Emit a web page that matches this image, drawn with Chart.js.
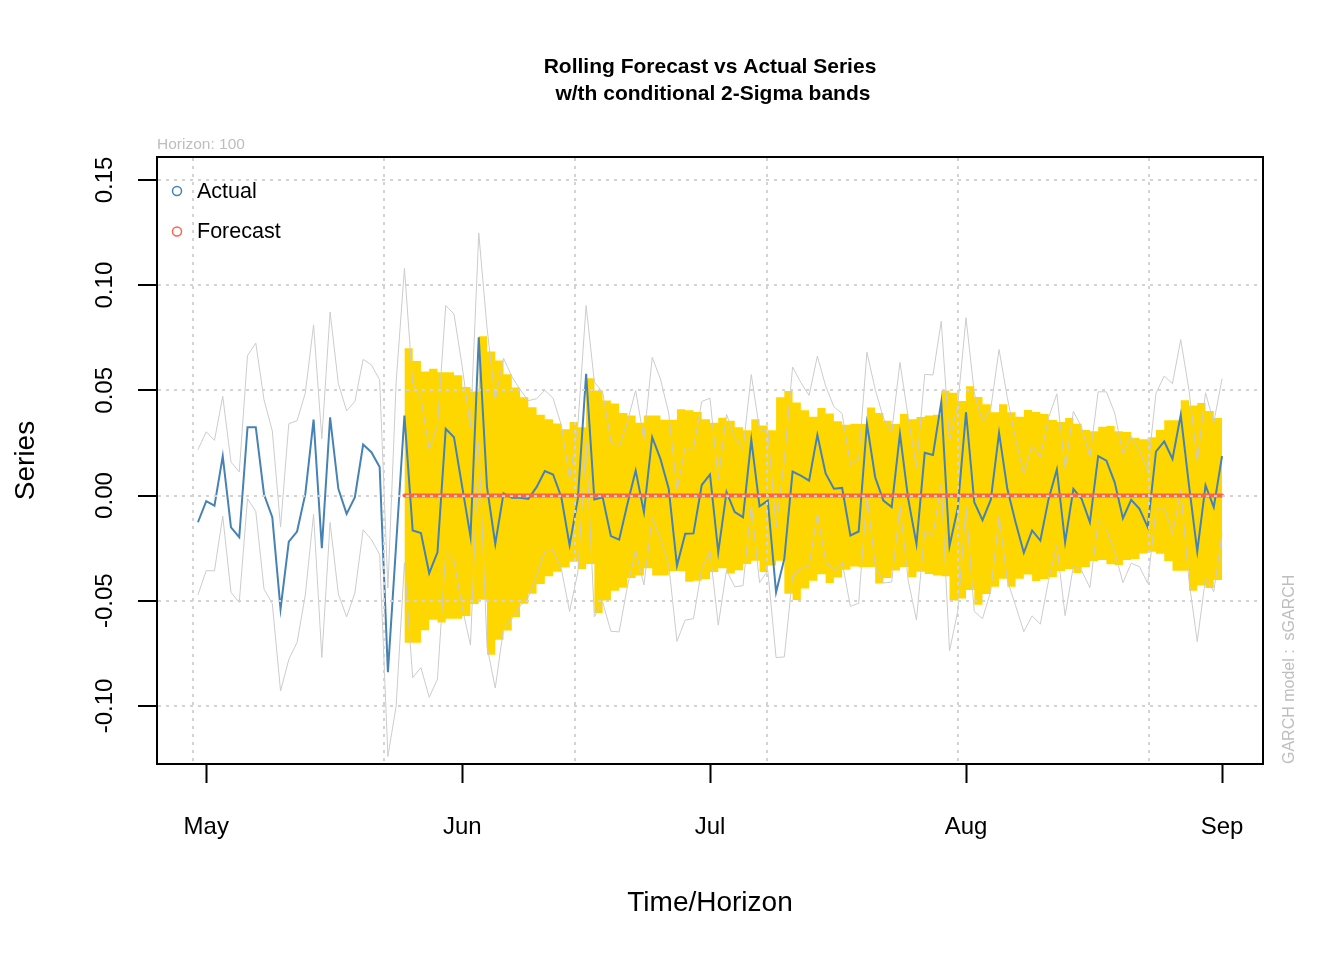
<!DOCTYPE html>
<html>
<head>
<meta charset="utf-8">
<title>Rolling Forecast vs Actual Series</title>
<script src="https://cdn.jsdelivr.net/npm/chart.js"></script>
<style>
    html, body { margin: 0; padding: 0; background: #ffffff; }
    #Wrap { width: 1344px; height: 960px; }
</style>
</head>
<body>
<div id="Wrap"><canvas id="ChartCanvas" width="1344" height="960"></canvas></div>
<script>
// Days are counted from 1 May (30 Apr = -1, 1 Sep = 123)
const firstDay = -1;
const forecastStartDay = 24; // 25 May, first of the 100 rolling forecasts

// Actual series, 30 Apr .. 1 Sep
const actualSeries = [
    -0.0127, -0.0027, -0.0048, 0.0187, -0.0151, -0.0198, 0.0325, 0.0325, 0.0005, -0.0103,
    -0.0539, -0.0219, -0.0171, 0.0008, 0.0361, -0.0250, 0.0372, 0.0032, -0.0087, -0.0008,
    0.0242, 0.0206, 0.0135, -0.0840, -0.0230, 0.0380, -0.0166, -0.0178, -0.0369, -0.0270,
    0.0317, 0.0277, 0.0040, -0.0195, 0.0752, 0.0040, -0.0230, 0.0011, -0.0011, -0.0011,
    -0.0016, 0.0040, 0.0116, 0.0100, -0.0008, -0.0236, -0.0015, 0.0578, -0.0019, -0.0008,
    -0.0193, -0.0210, -0.0040, 0.0119, -0.0079, 0.0277, 0.0174, 0.0032, -0.0333, -0.0182,
    -0.0180, 0.0050, 0.0100, -0.0270, 0.0016, -0.0079, -0.0103, 0.0265, -0.0051, -0.0024,
    -0.0460, -0.0300, 0.0114, 0.0095, 0.0071, 0.0288, 0.0105, 0.0032, 0.0036, -0.0190,
    -0.0171, 0.0341, 0.0087, -0.0024, -0.0055, 0.0293, -0.0016, -0.0230, 0.0203, 0.0193,
    0.0444, -0.0240, -0.0060, 0.0396, -0.0032, -0.0117, -0.0020, 0.0298, 0.0032, -0.0127,
    -0.0272, -0.0166, -0.0214, -0.0016, 0.0124, -0.0222, 0.0032, -0.0016, -0.0127, 0.0187,
    0.0166, 0.0063, -0.0108, -0.0020, -0.0063, -0.0150, 0.0209, 0.0257, 0.0174, 0.0383,
    0.0048, -0.0266, 0.0048, -0.0055, 0.0187
];

// 2 x conditional sigma, same days
const twoSigma = [
    0.0345, 0.0330, 0.0310, 0.0285, 0.0310, 0.0310, 0.0340, 0.0400, 0.0450, 0.0410,
    0.0390, 0.0560, 0.0527, 0.0480, 0.0450, 0.0520, 0.0500, 0.0500, 0.0490, 0.0455,
    0.0405, 0.0415, 0.0415, 0.0400, 0.0770, 0.0700, 0.0700, 0.0640, 0.0590, 0.0603,
    0.0586, 0.0586, 0.0572, 0.0516, 0.0495, 0.0757, 0.0685, 0.0642, 0.0577, 0.0514,
    0.0467, 0.0420, 0.0384, 0.0362, 0.0342, 0.0315, 0.0349, 0.0325, 0.0558, 0.0499,
    0.0452, 0.0438, 0.0392, 0.0380, 0.0346, 0.0380, 0.0380, 0.0360, 0.0360, 0.0410,
    0.0405, 0.0397, 0.0363, 0.0346, 0.0370, 0.0355, 0.0325, 0.0310, 0.0363, 0.0333,
    0.0310, 0.0467, 0.0497, 0.0442, 0.0405, 0.0374, 0.0416, 0.0390, 0.0353, 0.0337,
    0.0341, 0.0340, 0.0418, 0.0392, 0.0356, 0.0340, 0.0388, 0.0362, 0.0373, 0.0380,
    0.0384, 0.0499, 0.0489, 0.0449, 0.0519, 0.0468, 0.0434, 0.0396, 0.0434, 0.0396,
    0.0375, 0.0406, 0.0397, 0.0387, 0.0359, 0.0349, 0.0368, 0.0341, 0.0311, 0.0306,
    0.0327, 0.0330, 0.0306, 0.0302, 0.0275, 0.0267, 0.0277, 0.0311, 0.0358, 0.0358,
    0.0453, 0.0428, 0.0440, 0.0402, 0.0368
];

// Rolling forecast, 25 May .. 1 Sep (100 steps)
const forecastSeries = [
    0, 0, 0, 0, 0, 0, 0, 0, 0, 0,
    0, 0, 0, 0, 0, 0, 0, 0, 0, 0,
    0, 0, 0, 0, 0, 0, 0, 0, 0, 0,
    0, 0, 0, 0, 0, 0, 0, 0, 0, 0,
    0, 0, 0, 0, 0, 0, 0, 0, 0, 0,
    0, 0, 0, 0, 0, 0, 0, 0, 0, 0,
    0, 0, 0, 0, 0, 0, 0, 0, 0, 0,
    0, 0, 0, 0, 0, 0, 0, 0, 0, 0,
    0, 0, 0, 0, 0, 0, 0, 0, 0, 0,
    0, 0, 0, 0, 0, 0, 0, 0, 0, 0
];

// Axis ticks
const monthDays = [0, 31, 61, 92, 123];
const monthLabels = ['May', 'Jun', 'Jul', 'Aug', 'Sep'];
const gridDays = [-1.63, 21.53, 44.69, 67.85, 91.01, 114.17];
const yTicks = [-0.10, -0.05, 0.00, 0.05, 0.10, 0.15];

Initialize();

function Initialize()
{
    const FONT = '"Liberation Sans", Arial, sans-serif';
    const xMin = -5.96, xMax = 127.96;
    const yMin = -0.1276, yMax = 0.1609;
    const gridColor = '#d3d3d3';

    // Build point lists from the arrays
    const offset = forecastStartDay - firstDay;
    const actualPoints = actualSeries.map((v, i) => ({ x: firstDay + i, y: v }));
    const upperGrey = actualSeries.map((v, i) => ({ x: firstDay + i, y: v + twoSigma[i] }));
    const lowerGrey = actualSeries.map((v, i) => ({ x: firstDay + i, y: v - twoSigma[i] }));
    const forecastPoints = forecastSeries.map((v, k) => ({ x: forecastStartDay + k, y: v }));
    const bandUpper = forecastSeries.map((v, k) => ({ x: forecastStartDay + k, y: v + twoSigma[offset + k] }));
    const bandLower = forecastSeries.map((v, k) => ({ x: forecastStartDay + k, y: v - twoSigma[offset + k] }));

    // Legend, and model note drawn over the chart
    const notesPlugin = {
        id: 'notes',
        afterDraw(chart)
        {
            const ctx = chart.ctx;
            const area = chart.chartArea;
            ctx.save();

            // Legend (no box)
            const items = [chart.data.datasets[1], chart.data.datasets[0]];
            items.forEach((ds, i) => {
                const y = area.top + 34 + i * 40.5;
                ctx.beginPath();
                ctx.arc(area.left + 20, y, 4.5, 0, Math.PI * 2);
                ctx.lineWidth = 1.5;
                ctx.strokeStyle = ds.borderColor;
                ctx.stroke();
                ctx.fillStyle = '#000000';
                ctx.font = '21.5px ' + FONT;
                ctx.textAlign = 'left';
                ctx.textBaseline = 'middle';
                ctx.fillText(ds.label, area.left + 40, y + 1);
            });

            // Model note on the right side, reading upwards
            ctx.translate(area.right + 27, area.bottom);
            ctx.rotate(-Math.PI / 2);
            ctx.fillStyle = '#bebebe';
            ctx.font = '16px ' + FONT;
            ctx.textAlign = 'left';
            ctx.textBaseline = 'middle';
            ctx.fillText('GARCH model :  sGARCH', 0, 0);
            ctx.restore();
        }
    };

    const canvas = document.getElementById('ChartCanvas');
    const ctx = canvas.getContext('2d');
    const chart = new Chart(ctx, {
        type: 'line',
        data: {
            datasets: [
                {
                    label: 'Forecast',
                    data: forecastPoints,
                    borderColor: '#FF6347',
                    borderWidth: 4,
                    borderCapStyle: 'round',
                    order: 1
                },
                {
                    label: 'Actual',
                    data: actualPoints,
                    borderColor: '#4682B4',
                    borderWidth: 2,
                    order: 2
                },
                {
                    label: 'Upper',
                    data: upperGrey,
                    borderColor: '#cccccc',
                    borderWidth: 1,
                    order: 3
                },
                {
                    label: 'Lower',
                    data: lowerGrey,
                    borderColor: '#cccccc',
                    borderWidth: 1,
                    order: 4
                },
                {
                    label: 'Band upper',
                    data: bandUpper,
                    stepped: 'after',
                    fill: 'origin',
                    backgroundColor: '#FFD700',
                    borderColor: 'rgba(0,0,0,0)',
                    borderWidth: 0,
                    order: 5
                },
                {
                    label: 'Band lower',
                    data: bandLower,
                    stepped: 'before',
                    fill: 'origin',
                    backgroundColor: '#FFD700',
                    borderColor: 'rgba(0,0,0,0)',
                    borderWidth: 0,
                    order: 6
                }
            ]
        },
        options: {
            responsive: false,
            animation: false,
            devicePixelRatio: 1,
            events: [],
            layout: { padding: { top: 0, left: 5, right: 81, bottom: 36 } },
            elements: {
                point: { radius: 0, hitRadius: 0 },
                line: { tension: 0 }
            },
            plugins: {
                legend: { display: false },
                tooltip: { enabled: false },
                title: {
                    display: true,
                    fullSize: false,
                    text: ['Rolling Forecast vs Actual Series', ' w/th conditional 2-Sigma bands'],
                    color: '#000000',
                    font: { family: FONT, size: 21, weight: 'bold', lineHeight: 27 / 21 },
                    padding: { top: 53.5, bottom: 0 }
                },
                subtitle: {
                    display: true,
                    fullSize: false,
                    align: 'start',
                    text: 'Horizon: 100',
                    color: '#bebebe',
                    font: { family: FONT, size: 15.5, lineHeight: 1 },
                    padding: { top: 29, bottom: 5 }
                }
            },
            scales: {
                x: {
                    type: 'linear',
                    position: 'bottom',
                    min: xMin,
                    max: xMax,
                    afterBuildTicks: (scale) => { scale.ticks = monthDays.map(v => ({ value: v })); },
                    afterFit: (scale) => { scale.height = 160; },
                    ticks: {
                        callback: (value, index) => monthLabels[index],
                        autoSkip: false,
                        maxRotation: 0,
                        color: '#000000',
                        padding: 32,
                        font: { family: FONT, size: 24, lineHeight: 1 }
                    },
                    grid: {
                        drawOnChartArea: false,
                        drawTicks: true,
                        tickLength: 19,
                        tickColor: '#000000',
                        tickWidth: 2,
                        z: 1
                    },
                    border: { display: true, color: '#000000', width: 2, z: 2 },
                    title: {
                        display: true,
                        text: 'Time/Horizon',
                        color: '#000000',
                        font: { family: FONT, size: 28, lineHeight: 1 },
                        padding: { top: 0, bottom: 7 }
                    }
                },
                xGrid: {
                    type: 'linear',
                    position: 'top',
                    min: xMin,
                    max: xMax,
                    afterBuildTicks: (scale) => { scale.ticks = gridDays.map(v => ({ value: v })); },
                    afterFit: (scale) => { scale.height = 0; },
                    ticks: { display: false },
                    grid: { drawOnChartArea: true, drawTicks: false, color: gridColor, lineWidth: 2, z: 1 },
                    border: { display: true, color: '#000000', width: 2, dash: [3, 5], z: 2 }
                },
                y: {
                    type: 'linear',
                    position: 'left',
                    min: yMin,
                    max: yMax,
                    afterBuildTicks: (scale) => { scale.ticks = yTicks.map(v => ({ value: v })); },
                    afterFit: (scale) => { scale.width = 152; },
                    ticks: {
                        callback: (value) => value.toFixed(2),
                        minRotation: 90,
                        maxRotation: 90,
                        crossAlign: 'center',
                        color: '#000000',
                        padding: 5,
                        font: { family: FONT, size: 24, lineHeight: 1 }
                    },
                    grid: {
                        drawOnChartArea: true,
                        drawTicks: true,
                        color: gridColor,
                        lineWidth: 2,
                        tickLength: 19,
                        tickColor: '#000000',
                        tickWidth: 2,
                        tickBorderDash: [],
                        z: 1
                    },
                    border: { display: true, color: '#000000', width: 2, dash: [3, 5], z: 2 },
                    title: {
                        display: true,
                        text: 'Series',
                        color: '#000000',
                        font: { family: FONT, size: 28, lineHeight: 1 },
                        padding: { top: 7, bottom: 0 }
                    }
                },
                yRight: {
                    type: 'linear',
                    position: 'right',
                    min: yMin,
                    max: yMax,
                    afterFit: (scale) => { scale.width = 0; },
                    ticks: { display: false },
                    grid: { display: false, drawTicks: false },
                    border: { display: true, color: '#000000', width: 2, z: 2 }
                }
            }
        },
        plugins: [notesPlugin]
    });
}
</script>
</body>
</html>
